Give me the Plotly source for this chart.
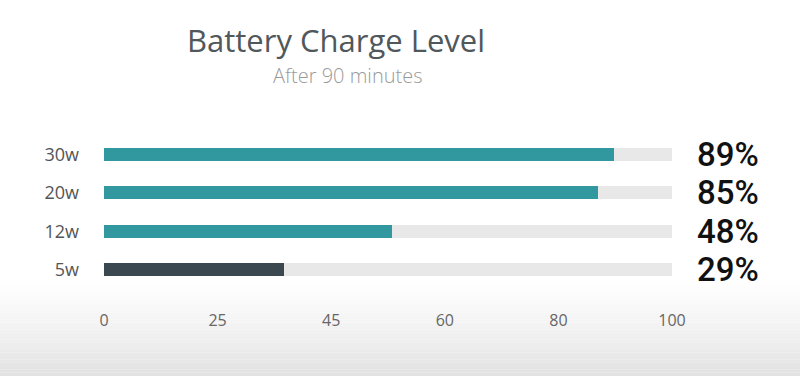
import plotly.graph_objects as go

categories = ["5w", "12w", "20w", "30w"]
bar_values = [31.7, 50.7, 86.9, 89.8]
label_texts = ["29%", "48%", "85%", "89%"]
bar_colors = ["#3b4850", "#3298a0", "#3298a0", "#3298a0"]
track_max = [100, 100, 100, 100]
tick_positions = [0, 20, 40, 60, 80, 100]
tick_labels = ["0", "25", "45", "60", "80", "100"]

W, H = 800, 376
ml, mr, mt, mb = 104, 128, 135, 87

fig = go.Figure()
fig.add_trace(go.Bar(y=categories, x=track_max, orientation="h",
                     marker=dict(color="#e8e8e8", line=dict(width=0)),
                     width=0.34, hoverinfo="skip", showlegend=False))
fig.add_trace(go.Bar(y=categories, x=bar_values, orientation="h",
                     marker=dict(color=bar_colors, line=dict(width=0)),
                     width=0.34, showlegend=False))

annotations = []
for cat, txt in zip(categories, label_texts):
    annotations.append(dict(x=100, y=cat, xref="x", yref="y", text=txt,
                            showarrow=False, xanchor="left", xshift=23,
                            font=dict(family="Roboto", size=33, color="#111111",
                                      weight=500)))

plot_h = H - mt - mb
def py(pix):
    return (H - mb - pix) / plot_h

annotations.append(dict(x=(336 - ml) / (W - ml - mr), y=py(40), xref="paper", yref="paper",
                        text="Battery Charge Level", showarrow=False,
                        xanchor="center", yanchor="middle",
                        font=dict(family="Open Sans", size=31, color="#50585c", weight=400)))
annotations.append(dict(x=(348 - ml) / (W - ml - mr), y=py(75), xref="paper", yref="paper",
                        text="After 90 minutes", showarrow=False,
                        xanchor="center", yanchor="middle",
                        font=dict(family="Open Sans", size=20, color="#9a9a9a", weight=300)))

# soft gray gradient at the bottom of the frame
shapes = []
n = 30
top_pix, bot_pix = 276, 376
for i in range(n):
    y0p = top_pix + (bot_pix - top_pix) * i / n
    y1p = top_pix + (bot_pix - top_pix) * (i + 1) / n
    t = (i + 0.5) / n
    g = int(round(255 - 30 * t ** 1.3))
    shapes.append(dict(type="rect", xref="paper", yref="paper", layer="below",
                       x0=-ml / (W - ml - mr) - 0.01, x1=1 + mr / (W - ml - mr) + 0.01,
                       y0=py(y1p), y1=py(y0p),
                       fillcolor=f"rgb({g},{g},{g})", line=dict(width=0)))

fig.update_layout(
    width=W, height=H,
    margin=dict(l=ml, r=mr, t=mt, b=mb),
    paper_bgcolor="white", plot_bgcolor="rgba(0,0,0,0)",
    barmode="overlay", bargap=0,
    annotations=annotations, shapes=shapes,
    xaxis=dict(range=[0, 100], tickvals=tick_positions, ticktext=tick_labels,
               showgrid=False, zeroline=False, showline=False, ticks="",
               ticklabelstandoff=20,
               tickfont=dict(family="Open Sans", size=16, color="#666666")),
    yaxis=dict(range=[-0.5, 3.5], showgrid=False, zeroline=False, showline=False,
               ticks="", ticklabelstandoff=24,
               tickfont=dict(family="Open Sans", size=18, color="#555555")),
)

fig.write_html("out.html", config={"displayModeBar": False},
               post_script="document.body.style.margin='0';document.body.style.overflow='hidden';")
